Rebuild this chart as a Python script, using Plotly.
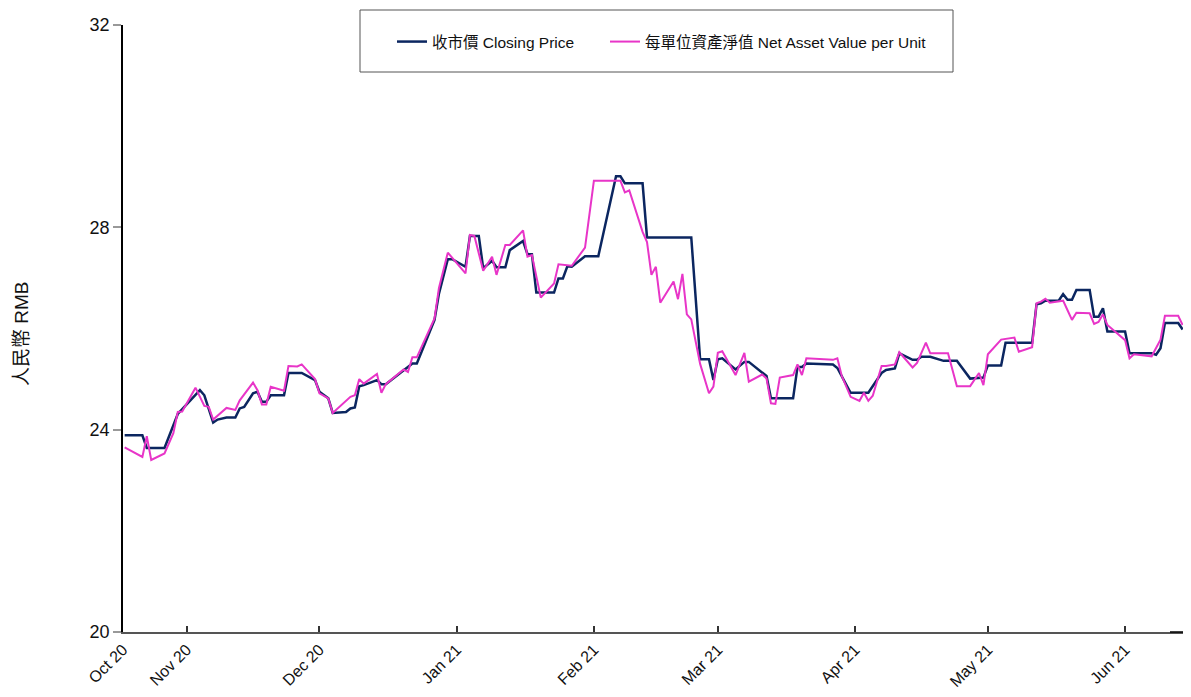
import plotly.graph_objects as go

# ---- data ----
close_dates = [
    "2020-10-18", "2020-10-22", "2020-10-23", "2020-10-27", "2020-10-30",
    "2020-11-04", "2020-11-05", "2020-11-07", "2020-11-08", "2020-11-10",
    "2020-11-12", "2020-11-13", "2020-11-14", "2020-11-16", "2020-11-17",
    "2020-11-18", "2020-11-19", "2020-11-20", "2020-11-23", "2020-11-24",
    "2020-11-27", "2020-11-30", "2020-12-01", "2020-12-03", "2020-12-04",
    "2020-12-07", "2020-12-08", "2020-12-09", "2020-12-10", "2020-12-11",
    "2020-12-14", "2020-12-15", "2020-12-16", "2020-12-20", "2020-12-22",
    "2020-12-23", "2020-12-27", "2020-12-28", "2020-12-30", "2020-12-31",
    "2021-01-03", "2021-01-04", "2021-01-06", "2021-01-07", "2021-01-09",
    "2021-01-10", "2021-01-12", "2021-01-13", "2021-01-16", "2021-01-17",
    "2021-01-18", "2021-01-19", "2021-01-23", "2021-01-24", "2021-01-25",
    "2021-01-26", "2021-01-27", "2021-01-30", "2021-02-02", "2021-02-06",
    "2021-02-07", "2021-02-08", "2021-02-12", "2021-02-13", "2021-02-23",
    "2021-02-25", "2021-02-27", "2021-02-28", "2021-03-01", "2021-03-02",
    "2021-03-05", "2021-03-07", "2021-03-08", "2021-03-12", "2021-03-13",
    "2021-03-18", "2021-03-19", "2021-03-20", "2021-03-21", "2021-03-27",
    "2021-03-28", "2021-03-31", "2021-04-04", "2021-04-07", "2021-04-08",
    "2021-04-10", "2021-04-11", "2021-04-14", "2021-04-15", "2021-04-16",
    "2021-04-18", "2021-04-21", "2021-04-24", "2021-04-27", "2021-04-30",
    "2021-05-01", "2021-05-04", "2021-05-05", "2021-05-11", "2021-05-12",
    "2021-05-13", "2021-05-14", "2021-05-17", "2021-05-18", "2021-05-19",
    "2021-05-20", "2021-05-21", "2021-05-24", "2021-05-25", "2021-05-26",
    "2021-05-27", "2021-05-28", "2021-06-01", "2021-06-02", "2021-06-07",
    "2021-06-08", "2021-06-09", "2021-06-10", "2021-06-13", "2021-06-14",
]
close_values = [
    23.89, 23.89, 23.64, 23.64, 24.31,
    24.78, 24.68, 24.14, 24.20, 24.24,
    24.24, 24.42, 24.45, 24.72, 24.75,
    24.55, 24.55, 24.68, 24.68, 25.12,
    25.12, 24.98, 24.75, 24.62, 24.33,
    24.35, 24.42, 24.44, 24.86, 24.88,
    24.98, 24.90, 24.90, 25.18, 25.31,
    25.31, 26.17, 26.69, 27.37, 27.37,
    27.22, 27.83, 27.83, 27.19, 27.34,
    27.21, 27.21, 27.55, 27.73, 27.47,
    27.47, 26.71, 26.71, 26.99, 26.99,
    27.23, 27.22, 27.43, 27.43, 29.01,
    29.01, 28.87, 28.87, 27.80, 27.80,
    25.39, 25.39, 24.98, 25.39, 25.41,
    25.19, 25.34, 25.34, 25.06, 24.62,
    24.62, 25.24, 25.24, 25.31, 25.29,
    25.22, 24.73, 24.73, 25.12, 25.18,
    25.21, 25.51, 25.38, 25.38, 25.44,
    25.44, 25.36, 25.36, 25.01, 25.03,
    25.27, 25.27, 25.72, 25.72, 26.48,
    26.50, 26.55, 26.55, 26.68, 26.57,
    26.57, 26.76, 26.76, 26.23, 26.23,
    26.40, 25.94, 25.94, 25.51, 25.51,
    25.48, 25.61, 26.11, 26.11, 25.98,
]

nav_dates = [
    "2020-10-18", "2020-10-22", "2020-10-23", "2020-10-24", "2020-10-27",
    "2020-10-29", "2020-10-30", "2020-10-31", "2020-11-03", "2020-11-05",
    "2020-11-06", "2020-11-07", "2020-11-10", "2020-11-12", "2020-11-13",
    "2020-11-16", "2020-11-17", "2020-11-18", "2020-11-19", "2020-11-20",
    "2020-11-23", "2020-11-24", "2020-11-26", "2020-11-27", "2020-11-30",
    "2020-12-01", "2020-12-03", "2020-12-04", "2020-12-08", "2020-12-09",
    "2020-12-10", "2020-12-11", "2020-12-14", "2020-12-15", "2020-12-16",
    "2020-12-20", "2020-12-21", "2020-12-22", "2020-12-23", "2020-12-27",
    "2020-12-28", "2020-12-30", "2021-01-03", "2021-01-04", "2021-01-05",
    "2021-01-07", "2021-01-09", "2021-01-10", "2021-01-12", "2021-01-13",
    "2021-01-16", "2021-01-17", "2021-01-18", "2021-01-20", "2021-01-23",
    "2021-01-24", "2021-01-27", "2021-01-30", "2021-02-01", "2021-02-07",
    "2021-02-08", "2021-02-09", "2021-02-12", "2021-02-13", "2021-02-14",
    "2021-02-15", "2021-02-16", "2021-02-19", "2021-02-20", "2021-02-21",
    "2021-02-22", "2021-02-23", "2021-02-25", "2021-02-27", "2021-02-28",
    "2021-03-01", "2021-03-02", "2021-03-05", "2021-03-07", "2021-03-08",
    "2021-03-11", "2021-03-12", "2021-03-13", "2021-03-14", "2021-03-15",
    "2021-03-18", "2021-03-19", "2021-03-20", "2021-03-21", "2021-03-27",
    "2021-03-28", "2021-03-29", "2021-03-31", "2021-04-02", "2021-04-03",
    "2021-04-04", "2021-04-05", "2021-04-07", "2021-04-08", "2021-04-10",
    "2021-04-11", "2021-04-14", "2021-04-15", "2021-04-17", "2021-04-18",
    "2021-04-22", "2021-04-24", "2021-04-27", "2021-04-29", "2021-04-30",
    "2021-05-01", "2021-05-02", "2021-05-04", "2021-05-07", "2021-05-08",
    "2021-05-11", "2021-05-12", "2021-05-13", "2021-05-14", "2021-05-15",
    "2021-05-18", "2021-05-19", "2021-05-20", "2021-05-21", "2021-05-24",
    "2021-05-25", "2021-05-26", "2021-05-27", "2021-05-28", "2021-06-01",
    "2021-06-02", "2021-06-03", "2021-06-07", "2021-06-09", "2021-06-10",
    "2021-06-13", "2021-06-14",
]
nav_values = [
    23.65, 23.46, 23.87, 23.40, 23.53,
    23.93, 24.35, 24.36, 24.83, 24.47,
    24.45, 24.20, 24.43, 24.39, 24.58,
    24.93, 24.78, 24.50, 24.50, 24.85,
    24.77, 25.26, 25.25, 25.29, 25.00,
    24.72, 24.62, 24.33, 24.65, 24.68,
    25.00, 24.91, 25.10, 24.73, 24.90,
    25.19, 25.14, 25.43, 25.43, 26.20,
    26.80, 27.50, 27.09, 27.85, 27.83,
    27.14, 27.42, 27.06, 27.65, 27.65,
    27.94, 27.42, 27.45, 26.61, 26.89,
    27.27, 27.24, 27.60, 28.92, 28.92,
    28.69, 28.73, 27.91, 27.71, 27.06,
    27.22, 26.51, 26.93, 26.58, 27.08,
    26.28, 26.18, 25.30, 24.72, 24.85,
    25.52, 25.55, 25.08, 25.52, 24.95,
    25.09, 25.01, 24.52, 24.51, 25.03,
    25.08, 25.29, 25.08, 25.41, 25.38,
    25.41, 25.06, 24.65, 24.57, 24.73,
    24.57, 24.67, 25.26, 25.26, 25.29,
    25.53, 25.23, 25.32, 25.72, 25.51,
    25.51, 24.86, 24.86, 25.12, 24.88,
    25.49, 25.59, 25.78, 25.82, 25.54,
    25.63, 26.50, 26.53, 26.59, 26.51,
    26.55, 26.36, 26.17, 26.31, 26.30,
    26.09, 26.13, 26.28, 26.07, 25.77,
    25.41, 25.49, 25.45, 25.78, 26.25,
    26.25, 26.07,
]

tick_dates = ["2020-10-17 15:00", "2020-11-01", "2020-12-01", "2021-01-01",
              "2021-02-01", "2021-03-01", "2021-04-01", "2021-05-01", "2021-06-01"]
tick_labels = ["Oct 20", "Nov 20", "Dec 20", "Jan 21", "Feb 21",
               "Mar 21", "Apr 21", "May 21", "Jun 21"]
y_ticks = [20, 24, 28, 32]

series_names = ["收市價 Closing Price", "每單位資產淨值 Net Asset Value per Unit"]

FONT = "Liberation Sans Narrow, Arial Narrow, Liberation Sans, Arial, Noto Sans CJK TC, sans-serif"
NAVY = "#0b2660"
PINK = "#e835c8"

fig = go.Figure()
fig.add_trace(go.Scatter(x=close_dates, y=close_values, mode="lines",
                         name=series_names[0], legend="legend",
                         line=dict(color=NAVY, width=2.5)))
fig.add_trace(go.Scatter(x=nav_dates, y=nav_values, mode="lines",
                         name=series_names[1], legend="legend2",
                         line=dict(color=PINK, width=2)))

# The page body has an 8px margin; figure starts at page px (8, 8).
OFF = 8
FIG_W, FIG_H = 1191 - 2 * OFF, 697 - OFF
# plot area in page px
L, R, T, B = 123, 1183, 25, 632
W, H = R - L, B - T


def px_x(p):
    return (p - L) / W


def px_y(p):
    return (B - p) / H


legend_common = dict(orientation="h", xanchor="left", yanchor="middle",
                     bgcolor="rgba(0,0,0,0)", borderwidth=0,
                     font=dict(family=FONT, size=15.5, color="#111"))

fig.update_layout(
    width=FIG_W, height=FIG_H,
    margin=dict(l=L - OFF, r=(OFF + FIG_W) - R, t=T - OFF, b=(OFF + FIG_H) - B,
                autoexpand=False),
    paper_bgcolor="white", plot_bgcolor="white",
    font=dict(family=FONT, size=15, color="#111"),
    showlegend=True,
    legend=dict(x=px_x(392), y=px_y(42), **legend_common),
    legend2=dict(x=px_x(605), y=px_y(42), **legend_common),
    xaxis=dict(type="date", range=["2020-10-17 15:00", "2021-06-14 02:00"],
               tickvals=tick_dates, ticktext=tick_labels, tickangle=-45,
               showgrid=False, zeroline=False,
               showline=True, linecolor="#555", linewidth=2,
               ticks="inside", ticklen=6, tickcolor="#333", tickwidth=1.5,
               tickfont=dict(family=FONT, size=16, color="#111"),
               fixedrange=True),
    yaxis=dict(range=[20, 32], tickvals=y_ticks,
               showgrid=False, zeroline=False,
               showline=True, linecolor="#000", linewidth=1.5,
               ticks="outside", ticklen=8, tickcolor="#999", tickwidth=1.5,
               tickfont=dict(family=FONT, size=18, color="#111"),
               fixedrange=True),
    shapes=[
        dict(type="rect", xref="paper", yref="paper",
             x0=px_x(360), x1=px_x(953), y0=px_y(72), y1=px_y(10),
             line=dict(color="#555", width=1), fillcolor="rgba(0,0,0,0)",
             layer="above"),
        dict(type="line", xref="paper", yref="paper",
             x0=px_x(1170), x1=1, y0=0, y1=0,
             line=dict(color="#000", width=1.5)),
    ],
    annotations=[
        dict(text="人民幣 RMB", xref="paper", yref="paper",
             x=px_x(21), y=px_y(334), textangle=-90, showarrow=False,
             xanchor="center", yanchor="middle",
             font=dict(family=FONT, size=19, color="#111")),
    ],
)

fig.write_html("out.html")
